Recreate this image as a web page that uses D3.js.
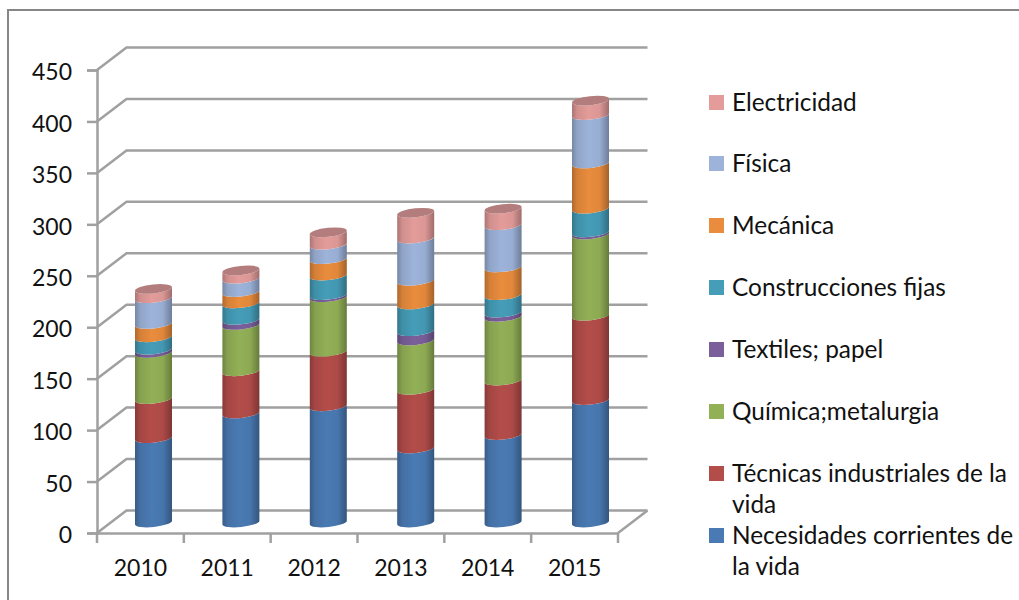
<!DOCTYPE html>
<html>
<head>
<meta charset="utf-8">
<script src="https://cdn.jsdelivr.net/npm/d3@7"></script>
<style>
  html, body { margin: 0; padding: 0; background: #fff; }
  text { font-family: Lato, "Open Sans", sans-serif; fill: #111; }
</style>
</head>
<body>
<svg id="chart" width="1019" height="600"></svg>
<script>
var years = ["2010", "2011", "2012", "2013", "2014", "2015"];
var yTicks = [0, 50, 100, 150, 200, 250, 300, 350, 400, 450];

// stack order, bottom to top
var necesidades = [82, 106, 113, 72, 85, 119];
var tecnicas = [38, 41, 53, 57, 53, 82];
var quimica = [45, 45, 53, 48, 62, 79];
var textiles = [3, 5, 2, 9, 4, 2];
var construcciones = [12, 16, 19, 26, 17, 23];
var mecanica = [13, 11, 16, 23, 27, 44];
var fisica = [25, 13, 14, 41, 41, 47];
var electricidad = [9, 8, 12, 25, 16, 14];

var seriesNames = [
  "Necesidades corrientes de la vida",
  "Técnicas industriales de la vida",
  "Química;metalurgia",
  "Textiles; papel",
  "Construcciones fijas",
  "Mecánica",
  "Física",
  "Electricidad"
];
var seriesValues = [necesidades, tecnicas, quimica, textiles, construcciones, mecanica, fisica, electricidad];
var seriesColors = ["#4a7ab3", "#b34d4a", "#92b056", "#7a5f9a", "#459db8", "#e98c3d", "#9db3da", "#e39c9a"];
var legendLines = [
  ["Necesidades corrientes de", "la vida"],
  ["Técnicas industriales de la", "vida"],
  ["Química;metalurgia"],
  ["Textiles; papel"],
  ["Construcciones fijas"],
  ["Mecánica"],
  ["Física"],
  ["Electricidad"]
];

var svg = d3.select("#chart");
var gridColor = "#a0a0a0";
var gridWidth = 2.5;

// frame runs off the right and bottom of the picture
svg.append("rect")
  .attr("x", 8).attr("y", 10)
  .attr("width", 1100).attr("height", 700)
  .attr("fill", "none")
  .attr("stroke", "#868686")
  .attr("stroke-width", 2);

var yScale = d3.scaleLinear().domain([0, 450]).range([533, 70]);
var xScale = d3.scaleBand().domain(years).range([97, 618]);
var barX = d3.scalePoint().domain(years).range([153.5, 590.5]);
var depthX = 29.5;
var depthY = -22.5;

// walls and floor
var grid = svg.append("g").attr("fill", "none").attr("stroke", gridColor).attr("stroke-width", gridWidth);
grid.selectAll(".wall")
  .data(yTicks)
  .enter()
  .append("path")
  .attr("class", "wall")
  .attr("d", function (d) {
    var y = yScale(d);
    return "M97," + y + "L" + (97 + depthX) + "," + (y + depthY) + "H" + (618 + depthX);
  });
grid.append("path")
  .attr("d", "M618," + yScale(0) + "L" + (618 + depthX) + "," + (yScale(0) + depthY));

// y axis
var yAxis = d3.axisLeft(yScale).tickValues(yTicks).tickSize(10).tickPadding(15).tickFormat(d3.format("d"));
var yG = svg.append("g").attr("transform", "translate(97,0)").call(yAxis);
yG.select(".domain").attr("stroke", gridColor).attr("stroke-width", gridWidth);
yG.selectAll("line").attr("stroke", gridColor).attr("stroke-width", gridWidth);
yG.selectAll("text").attr("font-size", 23).attr("dy", "0.42em").style("font-family", "Lato");

// x axis, ticks sit between the categories
var xAxis = d3.axisBottom(xScale).tickSize(0).tickPadding(27);
var xG = svg.append("g").attr("transform", "translate(0," + yScale(0) + ")").call(xAxis);
xG.select(".domain").attr("stroke", gridColor).attr("stroke-width", gridWidth);
xG.selectAll("text").attr("font-size", 23).style("font-family", "Lato");
xG.selectAll(".edge")
  .data(d3.range(years.length + 1))
  .enter()
  .append("line")
  .attr("class", "edge")
  .attr("x1", function (i) { return 97 + i * xScale.step(); })
  .attr("x2", function (i) { return 97 + i * xScale.step(); })
  .attr("y1", 0)
  .attr("y2", 10)
  .attr("stroke", gridColor)
  .attr("stroke-width", gridWidth);

// cylinder shading
var defs = svg.append("defs");
seriesColors.forEach(function (c, i) {
  var base = d3.color(c);
  var g = defs.append("linearGradient").attr("id", "cyl" + i);
  g.append("stop").attr("offset", "0%").attr("stop-color", base.darker(0.8));
  g.append("stop").attr("offset", "14%").attr("stop-color", base.darker(0.25));
  g.append("stop").attr("offset", "45%").attr("stop-color", base);
  g.append("stop").attr("offset", "75%").attr("stop-color", base.darker(0.1));
  g.append("stop").attr("offset", "100%").attr("stop-color", base.darker(1));
});

var radius = 18.5;
var capRy = 4.5;
var tilt = -6;
var tiltY = radius * Math.sin(6 * Math.PI / 180);

var barY = function (v) {
  return yScale(v) - 10.5;
};
var arcTo = function (x, y, sweep) {
  return "A" + radius + "," + capRy + " " + tilt + " 0 " + sweep + " " + x + "," + y;
};
var segmentPath = function (cx, v0, v1) {
  var l = cx - radius;
  var r = cx + radius;
  return "M" + l + "," + (barY(v1) + tiltY) +
    arcTo(r, barY(v1) - tiltY, 0) +
    "L" + r + "," + (barY(v0) - tiltY) +
    arcTo(l, barY(v0) + tiltY, 1) +
    "Z";
};
var capPath = function (cx, v) {
  var l = cx - radius;
  var r = cx + radius;
  return "M" + l + "," + (barY(v) + tiltY) +
    arcTo(r, barY(v) - tiltY, 0) +
    arcTo(l, barY(v) + tiltY, 0) +
    "Z";
};

var stackGen = d3.stack().keys(d3.range(seriesValues.length)).value(function (row, k) {
  return seriesValues[k][row];
});
var stacked = stackGen(d3.range(years.length));

var bars = svg.append("g");
stacked.forEach(function (layer, k) {
  bars.selectAll(".seg" + k)
    .data(layer)
    .enter()
    .append("path")
    .attr("class", "seg" + k)
    .attr("fill", "url(#cyl" + k + ")")
    .attr("d", function (d, i) {
      return segmentPath(barX(years[i]), d[0], d[1]);
    });
});

var topLayer = stacked[stacked.length - 1];
bars.selectAll(".cap")
  .data(topLayer)
  .enter()
  .append("path")
  .attr("class", "cap")
  .attr("fill", "#b27d7c")
  .attr("d", function (d, i) {
    return capPath(barX(years[i]), d[1]);
  });

// legend, top entry is the last series
var legendRows = [536, 474, 412, 350, 288, 226, 164, 103];
var legend = svg.append("g");
seriesNames.forEach(function (name, i) {
  var row = legend.append("g").attr("transform", "translate(0," + legendRows[i] + ")");
  row.append("rect")
    .attr("x", 709).attr("y", -8)
    .attr("width", 15).attr("height", 15)
    .attr("fill", seriesColors[i]);
  legendLines[i].forEach(function (line, j) {
    row.append("text")
      .attr("x", 732)
      .attr("y", j * 30.5)
      .attr("dy", "0.34em")
      .attr("font-size", 24.4)
      .text(line);
  });
});
</script>
</body>
</html>
